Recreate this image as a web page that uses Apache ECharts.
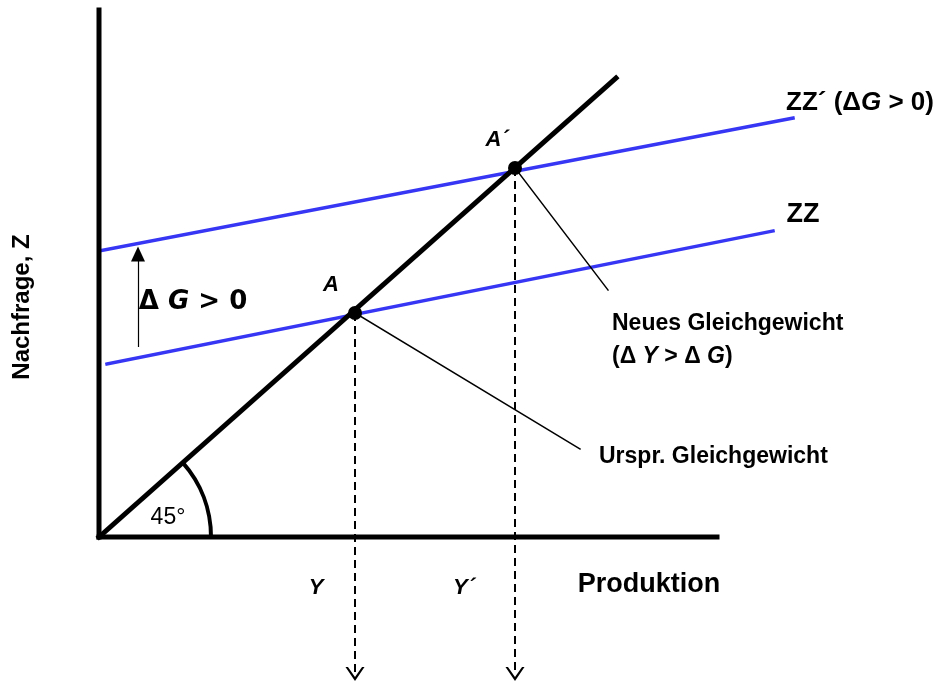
<!DOCTYPE html>
<html>
<head>
<meta charset="utf-8">
<script src="https://cdn.jsdelivr.net/npm/echarts@6/dist/echarts.min.js"></script>
<style>
  html, body { margin: 0; padding: 0; background: #fff; }
  #chart { width: 942px; height: 684px; }
</style>
</head>
<body>
<div id="chart"></div>
<script>
// Keynesianisches Kreuz: Anstieg der Staatsausgaben
// Einheiten: Produktion (x) und Nachfrage (y), Ursprung unten links
const achseX = [[0, 0], [618, 0]];                // Produktion
const achseY = [[0, 0], [0, 527]];                // Nachfrage, Z
const diagonale = [[0, 0], [517, 459]];           // 45°-Linie Z = Y
const zzAlt = [[8, 173], [674, 306]];             // ZZ
const zzNeu = [[0, 286], [694, 419]];             // ZZ´ (ΔG > 0)
const gleichgewichte = [[256, 224], [416, 369]];  // A, A´
const hinweisA = [[256, 224], [481, 88]];         // -> Urspr. Gleichgewicht
const hinweisNeu = [[416, 369], [509, 247]];      // -> Neues Gleichgewicht
const deltaG = [[39, 190], [39, 283]];            // Pfeil ΔG > 0
const lotEnde = -137;                             // Ende der gestrichelten Lote
const winkelRadius = 112;

const fontArial = 'Liberation Sans, Arial, sans-serif';
const fontDeja = 'DejaVu Sans, sans-serif';

// Beschriftungen: [x, y, text, size, align, font, rotate]
const beschriftungen = [
  [761, 434, '{b|ZZ´ (Δ}{i|G}{b| > 0)}', 26, 'center', fontArial, 0],
  [704, 322, '{b|ZZ}', 27, 'center', fontArial, 0],
  [398, 397, '{i|A´}', 22, 'center', fontArial, 0],
  [232, 252, '{i|A}', 22, 'center', fontArial, 0],
  [94, 235, '{b|Δ }{i|G}{b| > 0}', 26, 'center', fontDeja, 0],
  [513, 213, '{b|Neues Gleichgewicht}', 23, 'left', fontArial, 0],
  [513, 180, '{b|(Δ }{i|Y}{b| > Δ }{i|G}{b|)}', 23, 'left', fontArial, 0],
  [500, 80, '{b|Urspr. Gleichgewicht}', 23, 'left', fontArial, 0],
  [69, 19, '{r|45°}', 23, 'center', fontArial, 0],
  [217, -51, '{i|Y}', 22, 'center', fontArial, 0],
  [365, -51, '{i|Y´}', 22, 'center', fontArial, 0],
  [550, -48, '{b|Produktion}', 27, 'center', fontArial, 0],
  [-77, 230, '{b|Nachfrage, Z}', 24, 'center', fontArial, 90]
];

const chart = echarts.init(document.getElementById('chart'));

const labelData = beschriftungen.map(([x, y, text, size, align, family, rotate]) => ({
  value: [x, y],
  label: {
    show: true,
    position: 'inside',
    formatter: text,
    color: '#000',
    align: align,
    verticalAlign: 'middle',
    rotate: rotate,
    rich: {
      b: { fontSize: size, fontWeight: 'bold', fontFamily: family, color: '#000' },
      i: { fontSize: size, fontWeight: 'bold', fontStyle: 'italic', fontFamily: family, color: '#000' },
      r: { fontSize: size, fontFamily: family, color: '#000' }
    }
  }
}));

// offene Pfeilspitze (V) für die Lote
const chevron = 'path://M0,0L10,13L7.4,13L0,3.6L-7.4,13L-10,13Z';

function linie(name, data, color, width) {
  return {
    name: name, type: 'line', data: data, symbol: 'none', silent: true,
    lineStyle: { color: color, width: width, cap: 'square' }
  };
}

const option = {
  animation: false,
  grid: { left: 0, top: 0, right: 0, bottom: 0 },
  xAxis: { type: 'value', min: -99, max: 843, show: false },
  yAxis: { type: 'value', min: -147, max: 537, show: false },
  series: [
    linie('ZZ', zzAlt, '#3636f4', 3.5),
    linie('ZZ´', zzNeu, '#3636f4', 3.5),
    linie('Achse X', achseX, '#000', 5),
    linie('Achse Y', achseY, '#000', 5),
    linie('45°', diagonale, '#000', 5),
    linie('Hinweis A', hinweisA, '#000', 1.5),
    linie('Hinweis A´', hinweisNeu, '#000', 1.5),
    {
      name: 'Lote', type: 'line', data: [], silent: true,
      markLine: {
        silent: true,
        symbol: ['none', chevron],
        symbolSize: [19, 14],
        label: { show: false },
        lineStyle: { color: '#000', width: 2, type: [8, 5] },
        itemStyle: { color: '#000' },
        data: gleichgewichte.map(p => [{ coord: p }, { coord: [p[0], lotEnde] }])
      }
    },
    {
      name: 'ΔG', type: 'line', data: [], silent: true,
      markLine: {
        silent: true,
        symbol: ['none', 'triangle'],
        symbolSize: [14, 15],
        label: { show: false },
        lineStyle: { color: '#000', width: 1.2, type: 'solid' },
        itemStyle: { color: '#000' },
        data: [[{ coord: deltaG[0] }, { coord: deltaG[1] }]]
      }
    },
    {
      name: 'Winkel', type: 'custom', silent: true,
      data: [[0, 0]],
      renderItem: function (params, api) {
        const c = api.coord([0, 0]);
        const r = api.coord([winkelRadius, 0])[0] - c[0];
        const d = api.coord(diagonale[1]);
        const ang = Math.atan2(d[1] - c[1], d[0] - c[0]);
        return {
          type: 'arc',
          shape: { cx: c[0], cy: c[1], r: r, startAngle: ang, endAngle: 0 },
          style: { stroke: '#000', lineWidth: 4, fill: null }
        };
      }
    },
    {
      name: 'Gleichgewicht', type: 'scatter', data: gleichgewichte, silent: true,
      symbolSize: 14, itemStyle: { color: '#000', opacity: 1 }, z: 5
    },
    {
      name: 'Beschriftung', type: 'scatter', data: labelData, silent: true,
      symbolSize: 0, itemStyle: { opacity: 1 }, z: 6
    }
  ]
};

chart.setOption(option);

window.addEventListener('resize', function () {
  chart.resize();
});
</script>
</body>
</html>
